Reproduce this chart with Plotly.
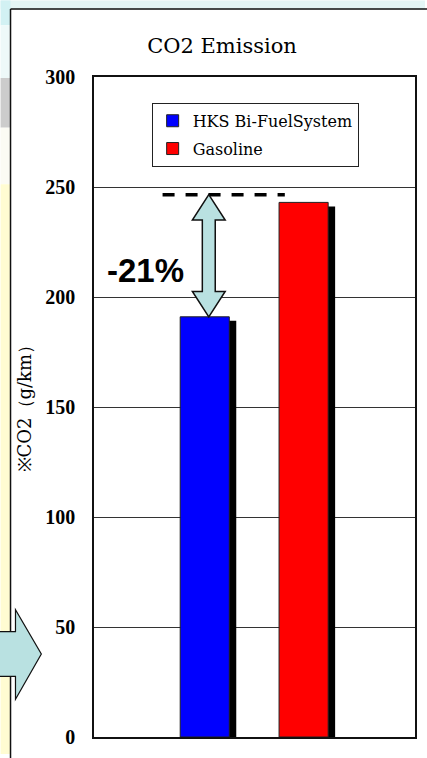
import plotly.graph_objects as go

# ---- data ----
categories = ["CO2"]
series_names = ["HKS Bi-FuelSystem", "Gasoline"]
series_values = [191, 243]
series_colors = ["#0000ff", "#ff0000"]
reference_level = 246.5          # dashed reference line level (g/km)
y_ticks = [0, 50, 100, 150, 200, 250, 300]

W, H = 427, 758
L, R, T, B = 94, 10, 77, 17
PW, PH = W - L - R, H - T - B


def px(x):
    return (x - L) / PW


def py(y):
    return 1 - (y - T) / PH


Y_MAX = 300
unit_px = PH / Y_MAX

bar_width = 0.153
bar_offsets = [-0.2315, 0.0765]
shadow_dx = 7 / PW
shadow_dy = 4 / unit_px

fig = go.Figure()

# shadows
for name, val, off in zip(series_names, series_values, bar_offsets):
    fig.add_trace(go.Bar(
        x=categories, y=[val - shadow_dy], width=bar_width, offset=off + shadow_dx,
        marker=dict(color="#000000", line=dict(width=0)), showlegend=False,
        hoverinfo="skip"))

for i, (name, val, off, col) in enumerate(zip(series_names, series_values, bar_offsets, series_colors)):
    fig.add_trace(go.Bar(
        x=categories, y=[val], width=bar_width, offset=off, name=name, legendgroup=f"g{i}",
        marker=dict(color=col, line=dict(color="#222222", width=1))))

shapes = []
# page background strips outside the chart frame
shapes.append(dict(type="rect", xref="paper", yref="paper", x0=px(0), x1=px(W), y0=py(0), y1=py(9),
                   fillcolor="#e4f6f6", line=dict(width=0), layer="below"))
left_bands = [(0, 25, "#d2f1f3"), (25, 78, "#eef9f9"), (78, 128, "#cccccc"),
              (128, 185, "#fbfbf4"), (185, H, "#fffcd2")]
for y0, y1, c in left_bands:
    shapes.append(dict(type="rect", xref="paper", yref="paper", x0=px(0), x1=px(10), y0=py(y0), y1=py(y1),
                       fillcolor=c, line=dict(width=0), layer="below"))
# chart frame
shapes.append(dict(type="line", xref="paper", yref="paper", x0=px(10), x1=px(W + 5), y0=py(8.5), y1=py(8.5),
                   line=dict(color="#111111", width=1.5)))
shapes.append(dict(type="line", xref="paper", yref="paper", x0=px(10), x1=px(10), y0=py(8.5), y1=py(H + 5),
                   line=dict(color="#111111", width=1.5)))
# left slide arrow
ax = [px(-2), px(15), px(15), px(41), px(15), px(15), px(-2)]
ay = [py(635), py(635), py(613), py(657.5), py(703), py(680), py(680)]
path = "M " + " L ".join(f"{a},{b}" for a, b in zip(ax, ay)) + " Z"
shapes.append(dict(type="path", xref="paper", yref="paper", path=path,
                   fillcolor="#b9e1e1", line=dict(color="#111111", width=1.2)))

# dashed reference line
shapes.append(dict(type="line", xref="paper", yref="y", x0=px(163), x1=px(286),
                   y0=reference_level, y1=reference_level,
                   line=dict(color="#000000", width=3.5, dash="12px,11px")))

# double arrow between reference level and blue bar
head_h = 11.5
xl, xsl, xc, xsr, xr = px(193), px(203), px(209.5), px(216), px(226)
top = reference_level
bot = series_values[0]
pts = [(xc, top), (xr, top - head_h), (xsr, top - head_h), (xsr, bot + head_h), (xr, bot + head_h),
       (xc, bot), (xl, bot + head_h), (xsl, bot + head_h), (xsl, top - head_h), (xl, top - head_h)]
path2 = "M " + " L ".join(f"{a},{b}" for a, b in pts) + " Z"
shapes.append(dict(type="path", xref="paper", yref="y", path=path2,
                   fillcolor="#b9e1e1", line=dict(color="#111111", width=1.5)))

pct = round((1 - series_values[0] / series_values[1]) * 100)

annotations = [
    dict(text=f"-{pct}%", xref="paper", yref="paper", x=px(146), y=py(272), showarrow=False,
         xanchor="center", yanchor="middle",
         font=dict(family="Liberation Sans", size=33, color="#000000", weight="bold")),
    dict(text="※CO2（g/km）", xref="paper", yref="paper", x=px(24), y=py(406), showarrow=False,
         xanchor="center", yanchor="middle",
         textangle=-90, font=dict(family="DejaVu Serif", size=18, color="#000000")),
]

fig.update_layout(
    width=W, height=H,
    margin=dict(l=L, r=R, t=T, b=B),
    paper_bgcolor="#ffffff", plot_bgcolor="#ffffff",
    barmode="overlay",
    title=dict(text="CO2 Emission", xref="container", yref="container", x=222 / W, y=1 - 46 / H,
               xanchor="center", yanchor="middle",
               font=dict(family="DejaVu Serif", size=21, color="#000000")),
    xaxis=dict(range=[-0.5, 0.5], showticklabels=False, showgrid=False, zeroline=False,
               showline=True, mirror=True, linecolor="#111111", linewidth=2, ticks=""),
    yaxis=dict(range=[0, Y_MAX], tickvals=y_ticks, showgrid=True, gridcolor="#333333", gridwidth=1,
               zeroline=False, showline=True, mirror=True, linecolor="#111111", linewidth=1.5,
               ticks="", ticklabelstandoff=13,
               tickfont=dict(family="Liberation Serif", size=20, color="#000000", weight="bold")),
    legend=dict(x=px(152), y=py(103), xanchor="left", yanchor="top",
                bgcolor="#ffffff", bordercolor="#222222", borderwidth=1, tracegroupgap=4,
                font=dict(family="DejaVu Serif", size=16, color="#000000")),
    shapes=shapes, annotations=annotations,
    showlegend=True,
)

fig.write_html("out.html", config={"displayModeBar": False},
               post_script="document.body.style.margin='0';")
